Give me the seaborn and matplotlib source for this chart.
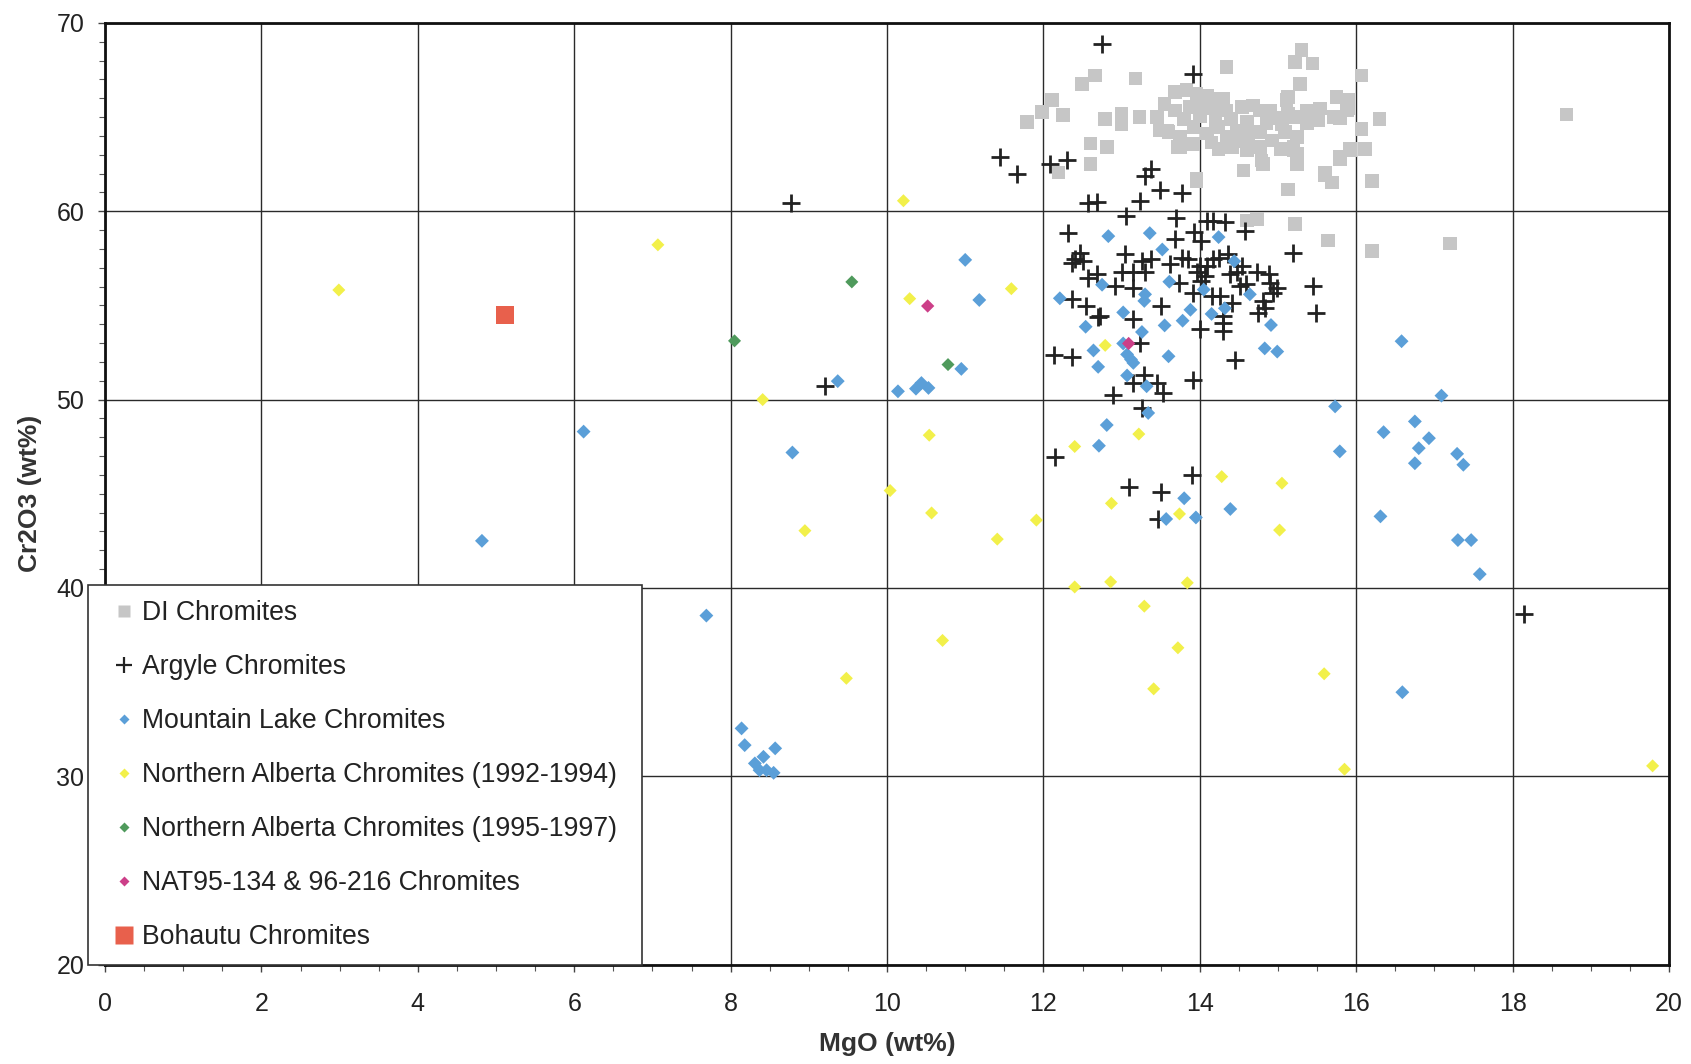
import numpy as np
import pandas as pd
import matplotlib
matplotlib.use("Agg")
import matplotlib.pyplot as plt
from matplotlib.lines import Line2D
import seaborn as sns

# ---------------- data ----------------
di_mgo = [15.30, 15.22, 15.44, 14.34, 12.66, 12.49, 13.18, 16.07, 15.28, 12.11, 11.98, 11.79, 12.25, 12.79,
          13.00, 13.00, 13.23, 13.45, 13.60, 12.60, 12.81, 12.60, 12.19, 13.96, 13.75, 14.60, 14.81, 15.11,
          15.22, 15.20, 15.24, 15.49, 15.75, 15.90, 15.90, 15.71, 16.30, 16.07, 15.92, 16.11, 15.79, 15.60,
          15.69, 16.20, 15.13, 14.73, 14.60, 15.22, 15.64, 16.20, 18.69, 17.20,
          13.68, 13.83, 13.96, 14.09, 14.19, 13.68, 13.87, 14.04, 14.17, 14.34, 14.54, 14.68, 14.77, 14.90,
          15.13, 15.13, 15.37, 15.54, 15.88, 15.79, 15.52, 15.37,
          13.58, 13.75, 13.92, 14.09, 14.24, 14.34, 14.47, 14.62, 14.77, 14.92, 15.09, 15.24, 15.20, 15.03,
          14.77, 14.60, 14.41, 14.24, 13.92, 13.72,
          14.56, 14.79, 15.24, 15.24, 15.79, 15.92, 15.60, 15.69, 13.96, 13.49,
          14.40, 14.60, 14.20, 14.00, 13.80, 14.85, 15.05, 14.50, 14.15, 14.95, 13.55, 14.30]
di_cr = [68.56, 67.93, 67.85, 67.67, 67.22, 66.76, 67.05, 67.22, 66.76, 65.90, 65.27, 64.74, 65.10, 64.90,
         65.19, 64.62, 65.01, 65.00, 64.20, 63.59, 63.40, 62.52, 62.07, 61.60, 63.41, 63.23, 62.50, 65.90,
         65.00, 63.40, 62.70, 65.36, 66.07, 65.90, 65.45, 65.00, 64.89, 64.36, 63.32, 63.32, 62.88, 62.03,
         61.52, 61.61, 61.16, 59.60, 59.50, 59.33, 58.44, 57.90, 65.13, 58.30,
         66.33, 66.43, 66.25, 66.16, 65.98, 65.36, 65.54, 65.63, 65.45, 65.36, 65.54, 65.63, 65.36, 65.36,
         66.07, 65.18, 65.36, 65.45, 65.36, 64.92, 64.83, 64.65,
         64.29, 63.94, 64.47, 64.12, 64.47, 63.94, 64.29, 64.03, 64.20, 63.76, 64.20, 63.94, 63.23, 63.32,
         63.40, 63.32, 63.40, 63.32, 63.58, 63.40,
         62.16, 62.70, 63.05, 62.52, 62.79, 63.23, 61.90, 61.54, 61.72, 64.29,
         64.90, 64.75, 64.85, 65.05, 64.90, 64.70, 64.60, 63.70, 63.65, 64.95, 65.70, 66.00]

arg_mgo = [12.75, 13.91, 11.44, 11.66, 12.08, 12.30, 13.30, 13.38, 13.49, 13.77, 13.24, 12.57, 12.68, 8.77, 9.21,
           13.06, 13.70, 12.32, 14.09, 14.17, 14.32, 13.92, 14.02, 14.58, 13.68, 15.19, 15.45, 15.49, 14.45, 13.91,
           12.47, 12.40, 12.51, 12.36, 12.57, 12.68, 12.36, 12.54, 12.70, 12.13, 12.37,
           12.92, 13.15, 13.04, 13.26, 13.38, 13.00, 13.15, 13.30, 13.62, 13.77, 13.85, 14.00, 14.09, 14.17,
           14.24, 13.96, 14.07, 14.02, 14.36, 14.39, 14.47, 14.54, 14.73, 14.88, 14.51, 14.59, 14.90, 14.99,
           14.94, 13.73, 13.91, 14.15, 14.26, 14.41, 14.81, 14.83, 14.75, 13.51, 13.15, 14.30, 14.30, 14.30,
           14.00, 13.24, 12.72,
           12.89, 13.26, 13.28, 13.15, 13.45, 13.53,
           12.15, 13.09, 13.51, 13.90, 13.47, 18.14]
arg_cr = [68.90, 67.31, 62.87, 62.00, 62.52, 62.73, 61.90, 62.25, 61.13, 60.95, 60.56, 60.42, 60.51, 60.45, 50.71,
          59.77, 59.62, 58.84, 59.50, 59.50, 59.41, 58.88, 58.43, 58.97, 58.52, 57.78, 56.04, 54.61, 52.09, 51.03,
          57.81, 57.46, 57.37, 57.28, 56.48, 56.66, 55.33, 54.97, 54.38, 52.36, 52.25,
          56.04, 55.95, 57.72, 57.37, 57.46, 56.75, 56.75, 56.75, 57.19, 57.54, 57.46, 57.10, 57.10, 57.46,
          57.54, 56.75, 56.57, 56.30, 57.72, 56.66, 56.75, 57.10, 56.75, 56.66, 56.04, 56.13, 56.21, 55.95,
          55.68, 56.21, 55.68, 55.50, 55.50, 55.15, 55.24, 54.88, 54.61, 54.97, 54.26, 54.44, 54.08, 53.64,
          53.73, 53.02, 54.44,
          50.27, 49.55, 51.33, 50.88, 50.88, 50.35,
          46.93, 45.38, 45.11, 46.00, 43.64, 38.63]

ml_mgo = [4.82, 6.12, 7.69, 8.14, 8.18, 8.57, 8.42, 8.31, 8.37, 8.46, 8.55, 8.79, 9.37, 10.14, 10.37, 10.44,
          10.53, 10.95, 11.00, 11.18,
          12.83, 13.36, 13.52, 14.24, 14.44, 12.75, 13.61, 14.05, 13.30, 13.29, 12.21, 14.64, 13.02, 13.88,
          13.78, 14.15, 14.32, 13.55, 14.91, 12.54, 13.26, 12.64, 13.02, 13.07, 13.12, 13.15, 13.60, 12.70,
          14.83, 14.99, 13.07, 13.32, 13.34, 12.81, 12.71,
          13.80, 13.57, 13.95, 14.39,
          16.58, 17.09, 15.73, 16.75, 16.35, 16.93, 16.80, 15.79, 16.75, 17.29, 17.37, 16.31, 17.30, 17.47,
          17.58, 16.59]
ml_cr = [42.50, 48.30, 38.53, 32.54, 31.65, 31.48, 31.03, 30.68, 30.32, 30.32, 30.18, 47.19, 50.98, 50.44, 50.58, 50.88,
         50.62, 51.63, 57.42, 55.29,
         58.68, 58.84, 57.97, 58.63, 57.35, 56.10, 56.26, 55.84, 55.59, 55.24, 55.38, 55.59, 54.63, 54.77,
         54.19, 54.55, 54.85, 53.94, 53.96, 53.87, 53.59, 52.61, 52.98, 52.40, 52.13, 51.95, 52.30, 51.74,
         52.72, 52.55, 51.28, 50.71, 49.29, 48.65, 47.55,
         44.76, 43.66, 43.74, 44.19,
         53.10, 50.21, 49.64, 48.84, 48.27, 47.95, 47.42, 47.25, 46.62, 47.12, 46.54, 43.80, 42.54, 42.54,
         40.73, 34.46]

na92_mgo = [2.99, 7.07, 10.21, 10.29, 11.59, 8.41, 10.54, 10.04, 10.57, 8.95, 12.79, 12.40, 13.22, 12.87,
            11.91, 11.41, 13.74, 14.28, 15.05, 15.02, 12.40, 12.86, 13.84, 13.29, 10.71, 13.72, 13.41, 15.59,
            15.85, 9.48, 19.79]
na92_cr = [55.82, 58.22, 60.56, 55.36, 55.89, 50.00, 48.11, 45.17, 43.98, 43.04, 52.88, 47.51, 48.17, 44.49,
           43.60, 42.59, 43.93, 45.91, 45.56, 43.07, 40.05, 40.32, 40.27, 39.03, 37.21, 36.82, 34.64, 35.44,
           30.37, 35.20, 30.55]

na95_mgo = [9.55, 8.05, 10.78]
na95_cr = [56.25, 53.12, 51.86]

nat_mgo = [10.52, 13.09]
nat_cr = [54.97, 52.98]

boh_mgo = [5.11]
boh_cr = [54.50]

series_names = ["DI Chromites", "Argyle Chromites", "Mountain Lake Chromites",
                "Northern Alberta Chromites (1992-1994)", "Northern Alberta Chromites (1995-1997)",
                "NAT95-134 & 96-216 Chromites", "Bohautu Chromites"]

x_ticks = [0, 2, 4, 6, 8, 10, 12, 14, 16, 18, 20]
y_ticks = [20, 30, 40, 50, 60, 70]

# ---------------- styling ----------------
sns.set_style("white")
plt.rcParams['font.family'] = ['Liberation Sans', 'DejaVu Sans']

C_DI = "#c6c6c6"
C_ARG = "#222222"
C_ML = "#5b9fd8"
C_NA92 = "#f2f04a"
C_NA95 = "#4f9a5c"
C_NAT = "#cc3f88"
C_BOH = "#e8604c"

fig = plt.figure(figsize=(16.91, 10.64), dpi=100)
ax = fig.add_axes([0.0621, 0.0935, 0.9249, 0.8849])

sns.scatterplot(x=di_mgo, y=di_cr, marker="s", s=95, color=C_DI, edgecolor="none", ax=ax, zorder=3)
sns.scatterplot(x=arg_mgo, y=arg_cr, marker="+", s=170, color=C_ARG, linewidth=2.0, ax=ax, zorder=4)
sns.scatterplot(x=ml_mgo, y=ml_cr, marker="D", s=50, color=C_ML, edgecolor="none", ax=ax, zorder=5)
sns.scatterplot(x=na92_mgo, y=na92_cr, marker="D", s=44, color=C_NA92, edgecolor="none", ax=ax, zorder=6)
sns.scatterplot(x=na95_mgo, y=na95_cr, marker="D", s=44, color=C_NA95, edgecolor="none", ax=ax, zorder=7)
sns.scatterplot(x=nat_mgo, y=nat_cr, marker="D", s=46, color=C_NAT, edgecolor="none", ax=ax, zorder=8)
sns.scatterplot(x=boh_mgo, y=boh_cr, marker="s", s=170, color=C_BOH, edgecolor="none", ax=ax, zorder=9)

ax.set_xlim(0, 20)
ax.set_ylim(20, 70)
ax.set_xticks(x_ticks)
ax.set_yticks(y_ticks)
ax.set_xticks(np.arange(0, 20.01, 0.5), minor=True)
ax.set_yticks(np.arange(20, 70.01, 1), minor=True)
ax.grid(True, which="major", color="#2a2a2a", linewidth=1.0, zorder=1)
ax.set_axisbelow(True)
for sp in ax.spines.values():
    sp.set_color("#111111")
    sp.set_linewidth(2.0)
ax.tick_params(axis="both", which="major", direction="out", length=5, width=1.0,
               color="#444444", labelsize=18, labelcolor="#222222", bottom=True, left=True)
ax.tick_params(axis="x", which="major", pad=15)
ax.tick_params(axis="y", which="major", pad=10)
ax.tick_params(axis="both", which="minor", direction="out", length=4, width=0.8,
               color="#555555", bottom=True, left=True)

ax.set_xlabel("MgO (wt%)", fontsize=19, fontweight="bold", color="#333333", labelpad=11)
ax.set_ylabel("Cr2O3 (wt%)", fontsize=19, fontweight="bold", color="#333333", labelpad=10)

handles = [
    Line2D([], [], linestyle="none", marker="s", markersize=8, color=C_DI, markeredgecolor="none"),
    Line2D([], [], linestyle="none", marker="+", markersize=11, color=C_ARG, markeredgewidth=1.6),
    Line2D([], [], linestyle="none", marker="D", markersize=5.5, color=C_ML, markeredgecolor="none"),
    Line2D([], [], linestyle="none", marker="D", markersize=5.5, color=C_NA92, markeredgecolor="none"),
    Line2D([], [], linestyle="none", marker="D", markersize=5.5, color=C_NA95, markeredgecolor="none"),
    Line2D([], [], linestyle="none", marker="D", markersize=5.5, color=C_NAT, markeredgecolor="none"),
    Line2D([], [], linestyle="none", marker="s", markersize=13, color=C_BOH, markeredgecolor="none"),
]
leg = ax.legend(handles, series_names, loc="lower left",
                bbox_to_anchor=(-0.0109, 0.0, 0.3542, 0.4), mode="expand",
                borderaxespad=0, frameon=True, fancybox=False, framealpha=1.0,
                edgecolor="#333333", facecolor="white", fontsize=19.2,
                handlelength=1.6, handletextpad=-0.12, labelspacing=1.05,
                borderpad=0.55, labelcolor="#222222")
leg.get_frame().set_linewidth(1.2)
leg.set_zorder(20)

fig.savefig("out.png", dpi=100, facecolor="white")
